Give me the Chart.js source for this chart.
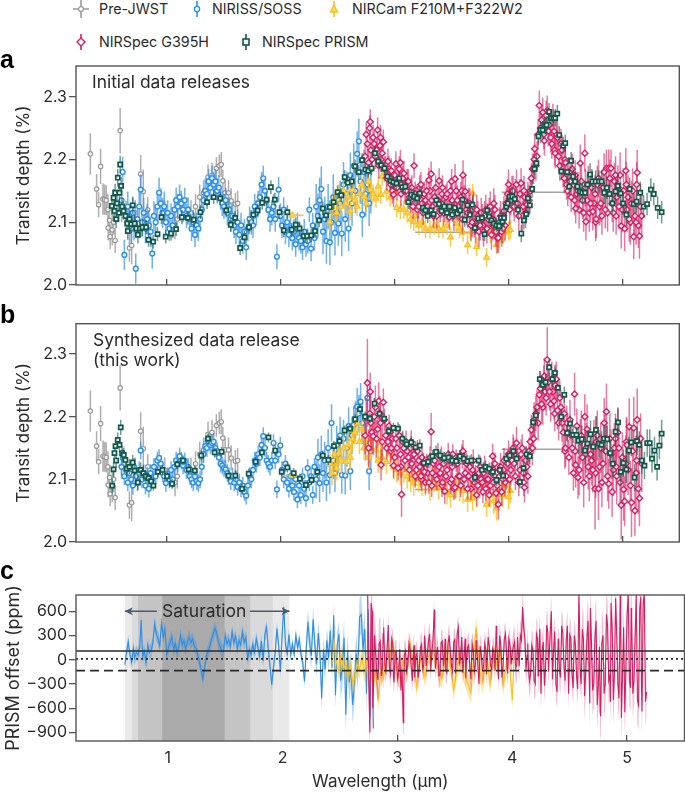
<!DOCTYPE html>
<html>
<head>
<meta charset="utf-8">
<title>Transit depth</title>
<script src="https://cdn.jsdelivr.net/npm/chart.js@4"></script>
<style>
    html, body { margin: 0; padding: 0; background: #fff; }
    #page { position: relative; width: 685px; height: 792px; overflow: hidden; font-family: Inter, sans-serif; color: #2b2b2b; }
    canvas { position: absolute; left: 0; }
    .txt { position: absolute; white-space: nowrap; font-size: 17.4px; line-height: 20px; }
    .tag { position: absolute; left: 0; font: bold 25px/26px "Liberation Sans", sans-serif; color: #000; }
    .leg { position: absolute; white-space: nowrap; font-size: 14.3px; line-height: 18px; }
    svg { position: absolute; overflow: visible; }
</style>
</head>
<body>
<div id="page">
    <canvas id="chart-a" width="685" height="235" style="top:60px"></canvas>
    <canvas id="chart-b" width="685" height="234" style="top:318px"></canvas>
    <canvas id="chart-c" width="685" height="212" style="top:580px"></canvas>

    <svg style="left:81px;top:9px" width="1" height="1"><path d="M0-9V9M-8 0H8" stroke="#999" stroke-width="1.6"/><circle r="2.4" fill="#fff" stroke="#999" stroke-width="1.3"/></svg>
    <div class="leg" style="left:99px;top:0">Pre-JWST</div>
    <svg style="left:196.5px;top:9px" width="1" height="1"><path d="M0-8V8" stroke="#2f8fe6" stroke-width="1.6"/><circle r="2.6" fill="#fff" stroke="#2f8fe6" stroke-width="1.4"/></svg>
    <div class="leg" style="left:212px;top:0">NIRISS/SOSS</div>
    <svg style="left:334px;top:9px" width="1" height="1"><path d="M0-8V8" stroke="#fdbf1c" stroke-width="1.6"/><path d="M0-4L3.6 3H-3.6Z" fill="#ffd45c" stroke="#fdbf1c" stroke-width="1.3"/></svg>
    <div class="leg" style="left:352px;top:0">NIRCam F210M+F322W2</div>
    <svg style="left:81px;top:42px" width="1" height="1"><path d="M0-8V8" stroke="#d81e63" stroke-width="1.6"/><path d="M0-4L4 0L0 4L-4 0Z" fill="#fff" stroke="#d81e63" stroke-width="1.4"/></svg>
    <div class="leg" style="left:99px;top:33px">NIRSpec G395H</div>
    <svg style="left:246px;top:42px" width="1" height="1"><path d="M0-8V8" stroke="#11574a" stroke-width="1.6"/><rect x="-3" y="-3" width="6" height="6" fill="#fff" stroke="#11574a" stroke-width="1.6"/></svg>
    <div class="leg" style="left:262px;top:33px">NIRSpec PRISM</div>

    <div class="tag" style="top:46px">a</div>
    <div class="tag" style="top:301px">b</div>
    <div class="tag" style="top:557px">c</div>
    <div class="txt" style="left:92px;top:72px">Initial data releases</div>
    <div class="txt" style="left:93px;top:330px">Synthesized data release</div>
    <div class="txt" style="left:93px;top:350px">(this work)</div>
    <div class="txt" style="left:162px;top:601px;font-size:17.5px">Saturation</div>
</div>

<script>
// wavelength ticks and panel ticks
const xTicks = [1, 2, 3, 4, 5];
const depthTicks = [2.0, 2.1, 2.2, 2.3];
const offsetTicks = [-900, -600, -300, 0, 300, 600];

// Pre-JWST, same in panels a and b
const preX = [.326,.381,.399,.416,.437,.451,.466,.48,.483,.495,.50,.518,.53,.544,.588,.60,.669,.689,.72,.768,.791,.83,.98,1.07,1.09,1.21,1.25,1.287,1.32,1.36,1.395,1.433,1.459,1.476,1.49,1.51,1.54,1.563,1.60,1.62];
const preY = [2.209,2.153,2.128,2.189,2.137,2.136,2.135,2.12,2.091,2.103,2.077,2.088,2.10,2.071,2.246,2.12,2.059,2.063,2.115,2.177,2.149,2.12,2.115,2.095,2.105,2.115,2.125,2.14,2.147,2.172,2.175,2.186,2.19,2.192,2.166,2.147,2.147,2.134,2.129,2.13];
const preE = [.033,.024,.02,.028,.025,.024,.024,.025,.02,.02,.02,.025,.02,.02,.036,.02,.022,.03,.02,.03,.035,.02,.02,.022,.02,.02,.02,.02,.02,.02,.02,.018,.018,.02,.018,.02,.02,.02,.018,.02];
const preBroadX = [3.56, 4.22];
const preBroadY = [2.084, 2.148];
const preBroadXE = [.38, .28];

// NIRISS/SOSS
const nirissX = [.60,.61,.625,.64,.655,.67,.685,.70,.71,.725,
    .74,.755,.768,.78,.795,.81,.825,.84,.855,.87,
    .885,.90,.915,.93,.945,.96,.975,.99,1.005,1.02,
    1.035,1.05,1.065,1.08,1.095,1.11,1.125,1.14,1.155,1.17,
    1.185,1.20,1.215,1.23,1.245,1.26,1.275,1.29,1.305,1.32,
    1.335,1.35,1.365,1.38,1.395,1.41,1.425,1.44,1.455,1.47,
    1.485,1.50,1.515,1.53,1.545,1.56,1.575,1.59,1.605,1.62,
    1.635,1.65,1.665,1.68,1.695,1.71,1.725,1.74,1.755,1.77,
    1.785,1.80,1.815,1.83,1.845,1.86,1.875,1.89,1.905,1.92,
    1.935,1.95,1.965,1.98,1.995,2.01,2.025,2.04,2.055,2.07,
    2.085,2.10,2.115,2.13,2.145,2.16,2.175,2.19,2.205,2.22,
    2.235,2.25,2.265,2.28,2.295,2.31,2.325,2.34,2.355,2.37,
    2.385,2.40,2.415,2.43,2.445,2.46,2.475,2.49,2.505,2.52,
    2.535,2.55,2.565,2.58,2.595,2.61,2.625,2.64,2.655,2.67,
    2.685,2.70,2.715,2.73,2.745,2.76,2.775,2.79];
const nirissYA = [2.135,2.180,2.048,2.110,2.125,2.105,2.090,2.115,2.095,2.026,
    2.105,2.125,2.152,2.100,2.115,2.090,2.105,2.095,2.085,2.050,
    2.110,2.100,2.125,2.147,2.130,2.115,2.125,2.100,2.115,2.090,
    2.110,2.095,2.120,2.135,2.125,2.140,2.130,2.120,2.135,2.110,
    2.120,2.105,2.090,2.100,2.080,2.095,2.090,2.105,2.120,2.135,
    2.150,2.145,2.165,2.155,2.170,2.160,2.165,2.150,2.155,2.140,
    2.130,2.125,2.135,2.115,2.120,2.105,2.110,2.095,2.085,2.100,
    2.080,2.095,2.070,2.085,2.060,2.090,2.105,2.100,2.095,2.125,
    2.115,2.130,2.140,2.160,2.170,2.150,2.135,2.120,2.105,2.115,
    2.125,2.105,2.045,2.152,2.110,2.095,2.120,2.085,2.100,2.080,
    2.090,2.075,2.085,2.065,2.095,2.075,2.070,2.060,2.085,2.065,
    2.070,2.120,2.058,2.095,2.075,2.125,2.110,2.135,2.153,2.085,
    2.105,2.070,2.125,2.068,2.100,2.140,2.083,2.115,2.098,2.130,
    2.082,2.160,2.105,2.145,2.090,2.175,2.130,2.190,2.150,2.209,
    2.229,2.165,2.112,2.180,2.145,2.160,2.130,2.150];
const nirissYB = [2.120,2.135,2.105,2.115,2.095,2.110,2.100,2.090,2.120,2.105,
    2.095,2.115,2.146,2.100,2.110,2.090,2.105,2.085,2.110,2.100,
    2.120,2.105,2.130,2.134,2.125,2.110,2.105,2.094,2.105,2.100,
    2.115,2.100,2.120,2.130,2.125,2.137,2.130,2.122,2.129,2.115,
    2.120,2.105,2.100,2.095,2.105,2.097,2.094,2.100,2.120,2.140,
    2.153,2.150,2.160,2.155,2.158,2.160,2.150,2.145,2.135,2.125,
    2.122,2.118,2.116,2.110,2.105,2.097,2.105,2.095,2.100,2.088,
    2.095,2.085,2.090,2.080,2.074,2.090,2.105,2.100,2.115,2.130,
    2.125,2.140,2.135,2.155,2.169,2.150,2.130,2.125,2.120,2.130,
    2.158,2.130,2.084,2.140,2.154,2.115,2.100,2.125,2.095,2.085,
    2.105,2.090,2.080,2.100,2.068,2.090,2.075,2.105,2.085,2.070,
    2.118,2.095,2.105,2.075,2.120,2.100,2.135,2.094,2.140,2.110,
    2.130,2.095,2.150,2.107,2.190,2.130,2.110,2.155,2.140,2.170,
    2.107,2.165,2.106,2.150,2.185,2.113,2.170,2.187,2.195,2.216,
    2.205,2.224,2.190,2.175,2.160,2.230,2.113,2.145];
const nirissErrA = [[1.0,.024],[2.3,.02],[2.9,.036]];
const nirissErrB = [[2.3,.014],[2.9,.03]];

// NIRCam F210M+F322W2
const camX = [2.43,2.45,2.47,2.49,2.51,2.53,2.55,2.57,2.59,2.61,2.63,2.65,2.67,2.69,2.71,2.73,2.75,2.77,2.79,2.81,2.835,2.855,2.878,2.89,2.928,2.96,2.99,3.017,3.05,3.08,3.11,3.14,3.168,3.18,3.21,3.24,3.27,3.31,3.35,3.386,3.424,3.46,3.49,3.54,3.57,3.6,3.64,3.668,3.685,3.72,3.743,3.778,3.807,3.84,3.87,3.894,3.92,3.946,3.967,4.0,4.016];
const camYA = [2.100,2.125,2.135,2.115,2.145,2.125,2.150,2.130,2.140,2.118,2.152,2.135,2.125,2.145,2.160,2.140,2.130,2.165,2.152,2.145,2.138,2.157,2.144,2.173,2.149,2.140,2.150,2.123,2.120,2.120,2.115,2.105,2.101,2.110,2.095,2.100,2.090,2.089,2.095,2.090,2.089,2.095,2.076,2.098,2.090,2.084,2.064,2.084,2.146,2.061,2.085,2.097,2.044,2.082,2.090,2.064,2.071,2.085,2.084,2.086,2.088];
const camYB = [2.125,2.110,2.140,2.118,2.142,2.130,2.150,2.128,2.155,2.135,2.165,2.175,2.190,2.160,2.180,2.150,2.165,2.135,2.150,2.165,2.147,2.130,2.158,2.135,2.128,2.140,2.120,2.115,2.110,2.115,2.105,2.100,2.094,2.110,2.100,2.094,2.094,2.086,2.100,2.088,2.095,2.080,2.075,2.090,2.085,2.082,2.068,2.085,2.070,2.075,2.090,2.094,2.060,2.075,2.065,2.054,2.080,2.075,2.090,2.072,2.082];
const camErrA = [[5,.015]];
const camErrB = [[5,.02]];
const camBroadX = [2.1];
const camBroadYA = [2.111];
const camBroadYB = [2.106];
const camBroadXE = [.1];

// NIRSpec G395H
const g395X = [2.74,2.76,2.78,2.79,2.81,2.83,2.85,2.87,2.88,2.90,
    2.92,2.94,2.96,2.97,2.99,3.01,3.03,3.05,3.06,3.08,
    3.10,3.12,3.14,3.15,3.17,3.19,3.21,3.23,3.24,3.26,
    3.28,3.30,3.32,3.33,3.35,3.37,3.39,3.41,3.42,3.44,
    3.46,3.48,3.50,3.51,3.53,3.55,3.57,3.59,3.60,3.62,
    3.64,3.66,3.68,3.69,3.71,3.73,3.75,3.77,3.78,3.80,
    3.82,3.84,3.86,3.87,3.89,3.91,3.93,3.95,3.96,3.98,
    4.00,4.02,4.04,4.05,4.07,4.09,4.11,4.13,4.14,4.16,
    4.18,4.20,4.22,4.23,4.25,4.27,4.29,4.31,4.32,4.34,
    4.36,4.38,4.40,4.41,4.43,4.45,4.47,4.49,4.50,4.52,
    4.54,4.56,4.58,4.59,4.61,4.63,4.65,4.67,4.68,4.70,
    4.72,4.74,4.76,4.77,4.79,4.81,4.83,4.85,4.86,4.88,
    4.90,4.92,4.94,4.95,4.97,4.99,5.01,5.03,5.04,5.06,
    5.08,5.10,5.12,5.13,5.15,5.17];
const g395YA = [2.205,2.225,2.250,2.215,2.235,2.205,2.247,2.222,2.200,2.228,
    2.185,2.197,2.170,2.182,2.144,2.193,2.165,2.195,2.160,2.178,
    2.150,2.165,2.135,2.155,2.190,2.140,2.125,2.160,2.130,2.145,
    2.150,2.167,2.177,2.125,2.140,2.110,2.166,2.130,2.155,2.120,
    2.145,2.108,2.165,2.125,2.169,2.135,2.118,2.150,2.175,2.149,
    2.115,2.130,2.100,2.125,2.090,2.110,2.095,2.105,2.085,2.120,
    2.105,2.125,2.095,2.130,2.085,2.075,2.110,2.090,2.118,2.130,
    2.160,2.135,2.150,2.125,2.160,2.110,2.162,2.125,2.140,2.128,
    2.135,2.170,2.185,2.217,2.205,2.286,2.263,2.240,2.255,2.278,
    2.255,2.225,2.245,2.210,2.235,2.190,2.215,2.170,2.195,2.150,
    2.165,2.185,2.135,2.122,2.150,2.194,2.135,2.210,2.101,2.160,
    2.130,2.117,2.145,2.105,2.170,2.130,2.155,2.120,2.186,2.186,
    2.186,2.115,2.175,2.140,2.125,2.094,2.150,2.182,2.120,2.105,
    2.130,2.077,2.100,2.179,2.078,2.110];
const g395YB = [2.170,2.254,2.205,2.190,2.169,2.215,2.180,2.205,2.123,2.223,
    2.170,2.160,2.175,2.150,2.122,2.165,2.118,2.140,2.076,2.150,
    2.160,2.135,2.150,2.125,2.140,2.115,2.130,2.105,2.135,2.112,
    2.125,2.095,2.176,2.110,2.130,2.100,2.120,2.135,2.095,2.081,
    2.115,2.130,2.100,2.140,2.087,2.125,2.105,2.140,2.145,2.110,
    2.085,2.120,2.100,2.130,2.105,2.090,2.120,2.095,2.110,2.085,
    2.100,2.090,2.137,2.115,2.078,2.060,2.120,2.100,2.130,2.105,
    2.140,2.115,2.150,2.125,2.158,2.095,2.140,2.110,2.087,2.120,
    2.145,2.179,2.165,2.190,2.215,2.235,2.220,2.250,2.240,2.291,
    2.240,2.260,2.225,2.250,2.210,2.230,2.190,2.205,2.150,2.175,
    2.195,2.150,2.236,2.123,2.103,2.160,2.135,2.200,2.150,2.120,
    2.140,2.115,2.085,2.160,2.085,2.150,2.125,2.165,2.208,2.093,
    2.140,2.115,2.165,2.105,2.150,2.059,2.084,2.125,2.155,2.184,
    2.063,2.182,2.110,2.195,2.070,2.125];
const g395ErrA = [[3.5,.02],[4.6,.024],[4.95,.03],[5.3,.036]];
const g395ErrB = [.030,.070,.045,.045,.030,.035,.030,.028,.025,.022,
    .020,.020,.018,.020,.020,.018,.020,.018,.036,.018,
    .018,.018,.016,.018,.016,.018,.016,.018,.016,.018,
    .016,.018,.030,.018,.016,.018,.016,.018,.018,.020,
    .018,.016,.018,.016,.018,.016,.018,.016,.018,.016,
    .018,.018,.016,.018,.018,.020,.018,.020,.018,.020,
    .020,.018,.020,.022,.024,.024,.022,.020,.020,.022,
    .022,.024,.022,.024,.026,.022,.024,.022,.024,.022,
    .022,.024,.024,.026,.028,.030,.028,.032,.030,.052,
    .030,.028,.030,.028,.030,.028,.030,.028,.030,.030,
    .032,.030,.034,.036,.034,.036,.034,.036,.040,.036,
    .034,.036,.065,.040,.050,.040,.036,.040,.045,.040,
    .040,.042,.040,.045,.040,.055,.050,.045,.042,.045,
    .055,.050,.060,.050,.045,.045];

// G395H points that sit between the ones above
const g395X2 = [2.75,2.77,2.785,2.80,2.82,2.84,2.86,2.875,2.89,2.91,
    2.93,2.95,2.965,2.98,3.00,3.02,3.04,3.055,3.07,3.09,
    3.11,3.13,3.145,3.16,3.18,3.20,3.22,3.235,3.25,3.27,
    3.29,3.31,3.325,3.34,3.36,3.38,3.40,3.415,3.43,3.45,
    3.47,3.49,3.505,3.52,3.54,3.56,3.58,3.595,3.61,3.63,
    3.65,3.67,3.685,3.70,3.72,3.74,3.76,3.775,3.79,3.81,
    3.83,3.85,3.865,3.88,3.90,3.92,3.94,3.955,3.97,3.99,
    4.01,4.03,4.045,4.06,4.08,4.10,4.12,4.135,4.15,4.17,
    4.19,4.21,4.225,4.24,4.26,4.28,4.30,4.315,4.33,4.35,
    4.37,4.39,4.405,4.42,4.44,4.46,4.48,4.495,4.51,4.53,
    4.55,4.57,4.585,4.60,4.62,4.64,4.66,4.675,4.69,4.71,
    4.73,4.75,4.765,4.78,4.80,4.82,4.84,4.855,4.87,4.89,
    4.91,4.93,4.945,4.96,4.98,5.00,5.02,5.035,5.05,5.07,
    5.09,5.11,5.125,5.14,5.16];
const g395YA2 = [2.240,2.195,2.260,2.200,2.225,2.215,2.190,2.235,2.210,2.185,
    2.170,2.185,2.160,2.150,2.175,2.155,2.185,2.145,2.170,2.150,
    2.165,2.140,2.150,2.125,2.145,2.120,2.155,2.135,2.115,2.135,
    2.125,2.150,2.135,2.110,2.155,2.135,2.120,2.145,2.115,2.140,
    2.120,2.150,2.135,2.110,2.150,2.125,2.140,2.105,2.135,2.120,
    2.130,2.095,2.120,2.100,2.120,2.085,2.115,2.095,2.110,2.090,
    2.115,2.080,2.105,2.120,2.075,2.100,2.085,2.110,2.095,2.145,
    2.120,2.150,2.135,2.145,2.130,2.145,2.110,2.150,2.115,2.140,
    2.150,2.185,2.200,2.190,2.240,2.250,2.275,2.230,2.270,2.245,
    2.235,2.265,2.215,2.240,2.205,2.225,2.180,2.200,2.160,2.180,
    2.140,2.160,2.175,2.145,2.120,2.165,2.115,2.155,2.135,2.115,
    2.155,2.130,2.100,2.160,2.125,2.110,2.180,2.145,2.115,2.170,
    2.130,2.165,2.110,2.155,2.175,2.120,2.090,2.160,2.140,2.100,
    2.150,2.110,2.160,2.095,2.125];
const g395YB2 = [2.200,2.150,2.240,2.175,2.200,2.165,2.225,2.190,2.160,2.195,
    2.150,2.185,2.145,2.165,2.135,2.150,2.170,2.120,2.160,2.130,
    2.145,2.115,2.160,2.130,2.105,2.145,2.120,2.100,2.125,2.095,
    2.110,2.135,2.090,2.125,2.105,2.140,2.110,2.090,2.125,2.105,
    2.140,2.095,2.120,2.085,2.130,2.105,2.090,2.135,2.100,2.125,
    2.105,2.085,2.115,2.095,2.075,2.110,2.100,2.080,2.120,2.100,
    2.075,2.110,2.095,2.125,2.090,2.105,2.080,2.115,2.095,2.125,
    2.100,2.130,2.145,2.105,2.135,2.115,2.150,2.095,2.130,2.105,
    2.160,2.150,2.195,2.205,2.190,2.245,2.215,2.265,2.230,2.255,
    2.220,2.240,2.205,2.260,2.190,2.215,2.175,2.145,2.190,2.135,
    2.170,2.110,2.145,2.185,2.115,2.170,2.095,2.140,2.180,2.105,
    2.130,2.155,2.110,2.170,2.120,2.095,2.190,2.145,2.105,2.165,
    2.080,2.150,2.120,2.175,2.095,2.135,2.065,2.160,2.115,2.090,
    2.145,2.050,2.130,2.085,2.165];
const g395ErrB2 = [[2.9,.03],[3.9,.018],[4.15,.022],[4.6,.028],[5.3,.04]];

// NIRSpec PRISM
const prismXA = [.515,.53,.538,.544,.553,.56,.567,.576,.582,.588,.596,.605,.617,.635,.65,.655,.67,.686,.698,.715,.73,.744,.761,.784,.816,.837,.878,.916,.951,.988,1.035,1.08,1.13,1.183,1.235,1.293,1.351,1.41,1.467,1.52,1.56,1.598,1.642,1.68,1.72,1.758,1.796,1.836,1.874,1.912,1.947,1.987,2.025,2.057,2.095,2.13,2.164,2.2,2.23,2.266,2.30,2.336,2.368,2.397,2.43,2.463,2.498,2.53,2.56,2.588,2.623,2.652,2.684,2.713,2.742,2.768,2.797,2.826,2.855,2.881,2.91,2.936,2.965,2.988,3.015,3.04,3.067,3.093,3.12,3.145,3.171,3.197,3.22,3.247,3.27,3.29,3.32,3.342,3.366,3.389,3.412,3.435,3.459,3.482,3.505,3.528,3.55,3.575,3.595,3.615,3.639,3.66,3.682,3.705,3.734,3.766,3.79,3.813,3.83,3.85,3.87,3.894,3.917,3.932,3.946,3.96,3.98,3.993,4.01,4.033,4.055,4.083,4.112,4.135,4.155,4.17,4.187,4.207,4.228,4.245,4.263,4.28,4.30,4.32,4.335,4.356,4.373,4.393,4.41,4.428,4.445,4.463,4.48,4.498,4.515,4.533,4.55,4.567,4.585,4.605,4.628,4.648,4.672,4.693,4.716,4.736,4.765,4.794,4.817,4.84,4.864,4.887,4.913,4.94,4.96,4.985,5.006,5.035,5.064,5.099,5.125,5.157,5.186,5.217,5.25,5.276,5.31,5.345];
const prismYA = [2.126,2.139,2.118,2.147,2.105,2.13,2.171,2.115,2.147,2.192,2.158,2.125,2.118,2.11,2.098,2.086,2.105,2.097,2.127,2.098,2.09,2.08,2.09,2.092,2.092,2.072,2.069,2.081,2.108,2.077,2.082,2.089,2.108,2.107,2.104,2.116,2.132,2.14,2.138,2.119,2.096,2.107,2.059,2.076,2.092,2.112,2.119,2.131,2.136,2.156,2.136,2.116,2.087,2.116,2.088,2.096,2.09,2.078,2.078,2.079,2.086,2.103,2.122,2.111,2.124,2.132,2.148,2.143,2.172,2.163,2.165,2.189,2.18,2.199,2.184,2.182,2.186,2.21,2.197,2.191,2.186,2.173,2.166,2.164,2.162,2.17,2.156,2.157,2.132,2.144,2.141,2.138,2.146,2.123,2.119,2.11,2.119,2.113,2.135,2.129,2.118,2.125,2.115,2.125,2.112,2.123,2.114,2.119,2.136,2.104,2.127,2.112,2.128,2.091,2.106,2.107,2.081,2.119,2.109,2.103,2.098,2.095,2.094,2.107,2.101,2.107,2.125,2.13,2.141,2.141,2.137,2.12,2.082,2.103,2.113,2.138,2.127,2.153,2.185,2.194,2.237,2.247,2.247,2.254,2.255,2.276,2.266,2.266,2.266,2.273,2.239,2.181,2.222,2.226,2.18,2.157,2.198,2.173,2.165,2.157,2.149,2.147,2.147,2.16,2.176,2.165,2.165,2.165,2.165,2.147,2.155,2.145,2.13,2.149,2.158,2.146,2.13,2.112,2.153,2.129,2.133,2.147,2.125,2.129,2.152,2.145,2.123,2.116];
const prismXB = [.518,.53,.538,.547,.553,.567,.582,.593,.605,.62,.634,.646,.669,.698,.715,.744,.768,.791,.814,.837,.86,.88,.919,.96,1.0,1.044,1.09,1.14,1.19,1.244,1.30,1.36,1.418,1.479,1.54,1.60,1.659,1.717,1.778,1.833,1.891,1.95,2.007,2.057,2.112,2.167,2.22,2.269,2.32,2.368,2.417,2.466,2.515,2.559,2.608,2.652,2.695,2.739,2.782,2.823,2.866,2.907,2.948,2.988,3.029,3.067,3.105,3.145,3.183,3.22,3.255,3.293,3.33,3.363,3.40,3.435,3.473,3.505,3.54,3.572,3.607,3.64,3.673,3.705,3.737,3.766,3.798,3.83,3.862,3.894,3.923,3.952,3.98,4.01,4.042,4.071,4.10,4.132,4.158,4.187,4.216,4.24,4.274,4.30,4.326,4.356,4.385,4.408,4.434,4.463,4.49,4.515,4.541,4.567,4.596,4.614,4.643,4.672,4.693,4.72,4.744,4.768,4.794,4.817,4.838,4.867,4.893,4.916,4.94,4.962,4.985,5.009,5.035,5.058,5.078,5.107,5.128,5.148,5.171,5.194,5.218,5.24,5.26,5.282,5.305,5.325,5.345];
const prismYB = [2.09,2.116,2.142,2.153,2.13,2.163,2.155,2.183,2.142,2.139,2.131,2.117,2.12,2.127,2.114,2.095,2.115,2.11,2.105,2.102,2.097,2.09,2.112,2.115,2.105,2.093,2.124,2.13,2.116,2.114,2.138,2.165,2.143,2.144,2.106,2.106,2.085,2.109,2.128,2.143,2.167,2.146,2.112,2.119,2.11,2.101,2.091,2.099,2.112,2.138,2.131,2.153,2.161,2.178,2.181,2.196,2.212,2.2,2.197,2.221,2.205,2.197,2.177,2.182,2.181,2.165,2.156,2.159,2.151,2.154,2.126,2.128,2.137,2.144,2.138,2.134,2.135,2.13,2.129,2.137,2.133,2.129,2.13,2.103,2.13,2.115,2.12,2.117,2.112,2.099,2.115,2.106,2.133,2.138,2.145,2.133,2.096,2.118,2.14,2.137,2.191,2.202,2.26,2.251,2.255,2.279,2.26,2.27,2.246,2.2,2.235,2.174,2.189,2.171,2.171,2.162,2.164,2.146,2.157,2.172,2.152,2.179,2.157,2.155,2.165,2.164,2.142,2.125,2.176,2.191,2.112,2.126,2.116,2.146,2.159,2.103,2.161,2.155,2.13,2.122,2.158,2.158,2.133,2.146,2.12,2.154,2.173];
const prismErrA = [[.8,.014],[3.9,.011],[4.6,.014],[5.4,.018]];
const prismErrB = [[.8,.012],[3,.008],[4.1,.01],[4.6,.013],[5.4,.022]];

// Panel c, PRISM offset in ppm
const offsetNirissY = [-60,80,220,60,-30,140,20,90,
    60,150,490,40,110,-40,180,90,120,210,
    450,310,260,170,450,280,380,60,150,210,
    280,120,200,90,160,300,180,240,130,220,
    280,210,260,170,140,60,-20,-130,-240,-100,
    40,110,160,250,320,390,330,220,160,110,
    100,300,190,250,160,345,210,290,140,240,
    180,345,210,280,15,120,60,190,90,260,
    150,40,230,-20,310,400,120,-80,-310,-100,
    90,385,180,-150,300,650,180,80,310,60,
    190,70,300,150,250,60,-30,-270,120,470,
    210,50,500,190,-60,330,80,-480,130,-120,
    240,20,360,-100,550,-440,180,320,-260,-90,
    270,-680,100,-280,-120,-560,-300,80,-150,530,
    560,120,380,-420,620,-700,550,-850];
const offsetCamY = [-60,200,-40,-150,60,-110,-60,-200,-60,-280,-230,-60,-110,30,-150,-20,-240,-100,-280,-120,-500,-100,-230,-60,60,180,-120,-230,-10,-170,190,-60,-340,-140,40,-220,30,120,-100,-240,110,-60,-370,60,-120,-240,-410,130,400,-170,-290,50,-300,80,-80,170,-320,-90,120,-500,40];
const offsetG395Y = [850,-900,600,-400,80,-250,230,-100,400,-140,
    430,-180,200,-280,100,-170,-380,-780,60,-140,
    200,-90,120,-220,80,-100,190,-60,240,70,
    320,100,620,-110,160,-190,230,60,-120,190,
    90,-140,250,-30,400,40,-160,260,-70,180,
    -240,120,-60,170,-300,60,-100,120,-40,160,
    -120,100,420,60,300,-220,250,90,-170,180,
    90,220,-60,160,300,650,260,50,-80,-170,
    120,-300,260,60,-420,220,-100,340,30,600,
    120,-300,260,-140,420,-80,240,-420,310,-180,
    300,-200,820,-120,380,-450,250,-220,640,-380,
    280,-560,160,-700,300,-300,420,-200,700,-500,
    760,-300,820,-720,400,-100,800,-350,500,-250,
    800,-560,780,-640,820,-400];
const offsetG395Y2 = [-300,700,-600,300,-150,200,-200,320,-60,150,
    -100,260,-220,90,-240,130,-120,-420,110,-60,
    120,-260,180,40,-220,150,-120,300,-80,220,
    -130,240,380,60,-200,210,-80,260,-160,300,
    -60,220,-170,320,-60,280,40,-230,150,-100,
    200,-150,240,-60,170,-120,200,-180,280,-70,
    140,-140,220,-240,180,-80,320,-120,260,-60,
    160,-100,280,-80,240,380,-120,200,-260,180,
    -260,320,-200,380,100,-320,430,-150,300,-240,
    350,-400,180,-220,330,-260,420,-120,270,-350,
    180,-360,520,-300,250,-120,480,-540,200,-300,
    480,-300,-640,200,-420,560,-260,-520,400,-160,
    300,-480,450,-200,-650,560,-260,640,-420,280,
    -500,620,-300,700,-520];
const offsetNirissErr = [[2.2,85],[2.5,160],[2.9,240]];
const offsetCamErr = [[5,130]];
const offsetG395Err = [[2.85,300],[4,150],[4.6,200],[5.3,300]];

// reference levels and saturation shading in panel c
const levelEdges = [0.2, 5.5];
const levelSolid = 107;
const levelDotted = 10;
const levelDashed = -135;
const satStart = [0.625, 0.686, 0.74, 0.95];
const satEnd = [2.06, 1.915, 1.72, 1.496];
const satGrey = ['#e9e9e9', '#dadada', '#c4c4c4', '#aaaaaa'];
const arrowSpans = [[0.904, 0.625], [1.714, 2.06]];
const arrowLevel = 600;

const OFFSET_TOP = 800;
const OFFSET_BOTTOM = -1005;

function stepErr(table, x) {
    const row = table.find(r => x <= r[0]);
    return row ? row[1] : table[table.length - 1][1];
}

function errAt(errs, xs, i) {
    return Array.isArray(errs[0]) ? stepErr(errs, xs[i]) : errs[i];
}

function errLine(xs, ys, errs, color) {
    const data = [];
    xs.forEach((x, i) => {
        const e = errAt(errs, xs, i);
        data.push({x: x, y: ys[i] - e}, {x: x, y: ys[i] + e}, {x: x, y: null});
    });
    return {data: data, showLine: true, pointRadius: 0, borderColor: color, borderWidth: 1.5, spanGaps: false};
}

function broadLine(xs, ys, xerr, color) {
    const data = [];
    xs.forEach((x, i) => {
        data.push({x: x - xerr[i], y: ys[i]}, {x: x + xerr[i], y: ys[i]}, {x: x, y: null});
    });
    return {data: data, showLine: true, pointRadius: 0, borderColor: color, borderWidth: 1.5, spanGaps: false};
}

function marks(xs, ys, style, radius, stroke, fill, width) {
    return {
        data: xs.map((x, i) => ({x: x, y: ys[i]})),
        showLine: false,
        pointStyle: style,
        pointRadius: radius,
        pointBorderColor: stroke,
        pointBackgroundColor: fill,
        pointBorderWidth: width
    };
}

function depthDatasets(p) {
    const white = 'rgba(255,255,255,0.82)';
    return [
        errLine(preX, preY, preE, 'rgba(140,140,140,0.7)'),
        broadLine(preBroadX, preBroadY, preBroadXE, 'rgba(140,140,140,0.8)'),
        marks(preX, preY, 'circle', 2.2, '#9a9a9a', white, 1.2),
        errLine(nirissX, p.nirissY, p.nirissErr, 'rgba(47,143,230,0.7)'),
        marks(nirissX, p.nirissY, 'circle', 2.4, '#2f8fe6', white, 1.4),
        errLine(camX, p.camY, p.camErr, 'rgba(253,191,28,0.8)'),
        broadLine(camBroadX, p.camBroadY, camBroadXE, 'rgba(253,191,28,0.9)'),
        marks(camBroadX, p.camBroadY, 'triangle', 3.4, '#fdbf1c', '#ffd45c', 1.2),
        marks(camX, p.camY, 'triangle', 3.4, '#fdbf1c', '#ffd45c', 1.2),
        errLine(g395X2, p.g395Y2, p.g395Err2, 'rgba(216,30,99,0.6)'),
        errLine(g395X, p.g395Y, p.g395Err, 'rgba(216,30,99,0.6)'),
        marks(g395X2, p.g395Y2, 'rectRot', 3.1, '#d81e63', white, 1.4),
        marks(g395X, p.g395Y, 'rectRot', 3.1, '#d81e63', white, 1.4),
        errLine(p.prismX, p.prismY, p.prismErr, 'rgba(17,87,74,0.6)'),
        marks(p.prismX, p.prismY, 'rect', 2.9, '#11574a', white, 1.7)
    ];
}

function bandDatasets(xs, ys, errs, lineColor, bandColor) {
    const points = sign => xs.map((x, i) => ({x: x, y: ys[i] + sign * errAt(errs, xs, i)}));
    const base = {showLine: true, pointRadius: 0, borderWidth: 0, tension: 0};
    return [
        Object.assign({data: points(1)}, base),
        Object.assign({data: points(-1), fill: '-1', backgroundColor: bandColor}, base),
        {data: xs.map((x, i) => ({x: x, y: ys[i]})), showLine: true, pointRadius: 0, borderColor: lineColor, borderWidth: 1.1}
    ];
}

function level(y, dash) {
    return {
        data: levelEdges.map(x => ({x: x, y: y})),
        showLine: true,
        pointRadius: 0,
        borderColor: '#2a2a2a',
        borderWidth: 1.6,
        borderDash: dash
    };
}

function offsetDatasets() {
    const shades = satStart.map((x, i) => ({
        data: [{x: x, y: OFFSET_TOP}, {x: satEnd[i], y: OFFSET_TOP}],
        showLine: true,
        pointRadius: 0,
        borderWidth: 0,
        fill: 'start',
        backgroundColor: satGrey[i]
    }));
    // both G395H lists merged in wavelength order for the line
    const g395Pairs = g395X.map((x, i) => [x, offsetG395Y[i]])
        .concat(g395X2.map((x, i) => [x, offsetG395Y2[i]]))
        .sort((p, q) => p[0] - q[0]);
    return shades.concat(
        bandDatasets(nirissX.slice(2), offsetNirissY, offsetNirissErr, '#2f8fe6', 'rgba(47,143,230,0.35)'),
        bandDatasets(camX, offsetCamY, offsetCamErr, '#fdbf1c', 'rgba(253,191,28,0.4)'),
        bandDatasets(g395Pairs.map(p => p[0]), g395Pairs.map(p => p[1]), offsetG395Err, '#d81e63', 'rgba(216,30,99,0.3)'),
        [level(levelSolid, []), level(levelDotted, [2, 3]), level(levelDashed, [9, 5])]
    );
}

const framePlugin = {
    id: 'frame',
    afterDraw(chart) {
        const a = chart.chartArea, ctx = chart.ctx;
        ctx.save();
        ctx.strokeStyle = '#555';
        ctx.lineWidth = 1.4;
        ctx.strokeRect(a.left, a.top, a.right - a.left, a.bottom - a.top);
        ctx.restore();
    }
};

const arrowPlugin = {
    id: 'satArrows',
    afterDatasetsDraw(chart) {
        const ctx = chart.ctx, x = chart.scales.x, y = chart.scales.y;
        const py = y.getPixelForValue(arrowLevel);
        ctx.save();
        ctx.strokeStyle = '#4a5a70';
        ctx.fillStyle = '#4a5a70';
        ctx.lineWidth = 1.4;
        arrowSpans.forEach(s => {
            const from = x.getPixelForValue(s[0]), to = x.getPixelForValue(s[1]);
            const dir = to > from ? 1 : -1;
            ctx.beginPath();
            ctx.moveTo(from, py);
            ctx.lineTo(to, py);
            ctx.stroke();
            ctx.beginPath();
            ctx.moveTo(to, py);
            ctx.lineTo(to - dir * 8, py - 4);
            ctx.lineTo(to - dir * 6, py);
            ctx.lineTo(to - dir * 8, py + 4);
            ctx.closePath();
            ctx.fill();
        });
        ctx.restore();
    }
};

function makeChart(id, datasets, o) {
    const tickFont = {family: 'Inter', size: 16};
    // first dataset in the list goes at the back
    datasets.forEach((d, i) => { d.order = datasets.length - i; });
    return new Chart(document.getElementById(id), {
        type: 'scatter',
        data: {datasets: datasets},
        plugins: o.plugins,
        options: {
            responsive: false,
            animation: false,
            events: [],
            layout: {padding: {top: o.padTop, right: 0.5, left: 0, bottom: 0}},
            plugins: {legend: {display: false}, tooltip: {enabled: false}},
            scales: {
                x: {
                    type: 'linear',
                    min: 0.2,
                    max: 5.5,
                    afterBuildTicks: s => { s.ticks = xTicks.map(v => ({value: v})); },
                    afterFit: s => { s.height = o.xHeight; s.paddingLeft = 0; s.paddingRight = 0; },
                    grid: {drawOnChartArea: false, tickLength: -6, color: '#555', lineWidth: 1.3},
                    border: {display: false},
                    ticks: {display: o.showX, color: '#2b2b2b', font: tickFont, padding: 14, maxRotation: 0, autoSkip: false, callback: v => String(v)},
                    title: {display: o.showX, text: 'Wavelength (µm)', color: '#2b2b2b', font: {family: 'Inter', size: 17}, padding: {top: 0, bottom: 0}}
                },
                y: {
                    min: o.yMin,
                    max: o.yMax,
                    afterBuildTicks: s => { s.ticks = o.yTicks.map(v => ({value: v})); },
                    afterFit: s => { s.width = 76; s.paddingTop = 0; s.paddingBottom = 0; },
                    grid: {drawOnChartArea: false, tickLength: 7, color: '#555', lineWidth: 1.3},
                    border: {display: false},
                    ticks: {color: '#2b2b2b', font: tickFont, padding: 2, autoSkip: false, callback: o.yFormat},
                    title: {display: true, text: o.yTitle, color: '#2b2b2b', font: {family: 'Inter', size: o.titleSize}, padding: {top: o.titlePad, bottom: 0}}
                }
            }
        }
    });
}

const depthFormat = v => v.toFixed(1);
const offsetFormat = v => String(v).replace('-', '\u2212');

makeChart('chart-a', depthDatasets({
    nirissY: nirissYA, nirissErr: nirissErrA,
    camY: camYA, camErr: camErrA, camBroadY: camBroadYA,
    g395Y: g395YA, g395Err: g395ErrA,
    g395Y2: g395YA2, g395Err2: g395ErrA,
    prismX: prismXA, prismY: prismYA, prismErr: prismErrA
}), {plugins: [framePlugin], padTop: 6, xHeight: 10, showX: false, yMin: 2.0, yMax: 2.349, yTicks: depthTicks, yFormat: depthFormat, yTitle: 'Transit depth (%)', titlePad: 14, titleSize: 17});

makeChart('chart-b', depthDatasets({
    nirissY: nirissYB, nirissErr: nirissErrB,
    camY: camYB, camErr: camErrB, camBroadY: camBroadYB,
    g395Y: g395YB, g395Err: g395ErrB,
    g395Y2: g395YB2, g395Err2: g395ErrB2,
    prismX: prismXB, prismY: prismYB, prismErr: prismErrB
}), {plugins: [framePlugin], padTop: 5.5, xHeight: 10, showX: false, yMin: 2.0, yMax: 2.3485, yTicks: depthTicks, yFormat: depthFormat, yTitle: 'Transit depth (%)', titlePad: 14, titleSize: 17});

makeChart('chart-c', offsetDatasets(), {plugins: [framePlugin, arrowPlugin], padTop: 15, xHeight: 51, showX: true, yMin: OFFSET_BOTTOM, yMax: OFFSET_TOP, yTicks: offsetTicks, yFormat: offsetFormat, yTitle: 'PRISM offset (ppm)', titlePad: 3, titleSize: 18});
</script>
</body>
</html>
